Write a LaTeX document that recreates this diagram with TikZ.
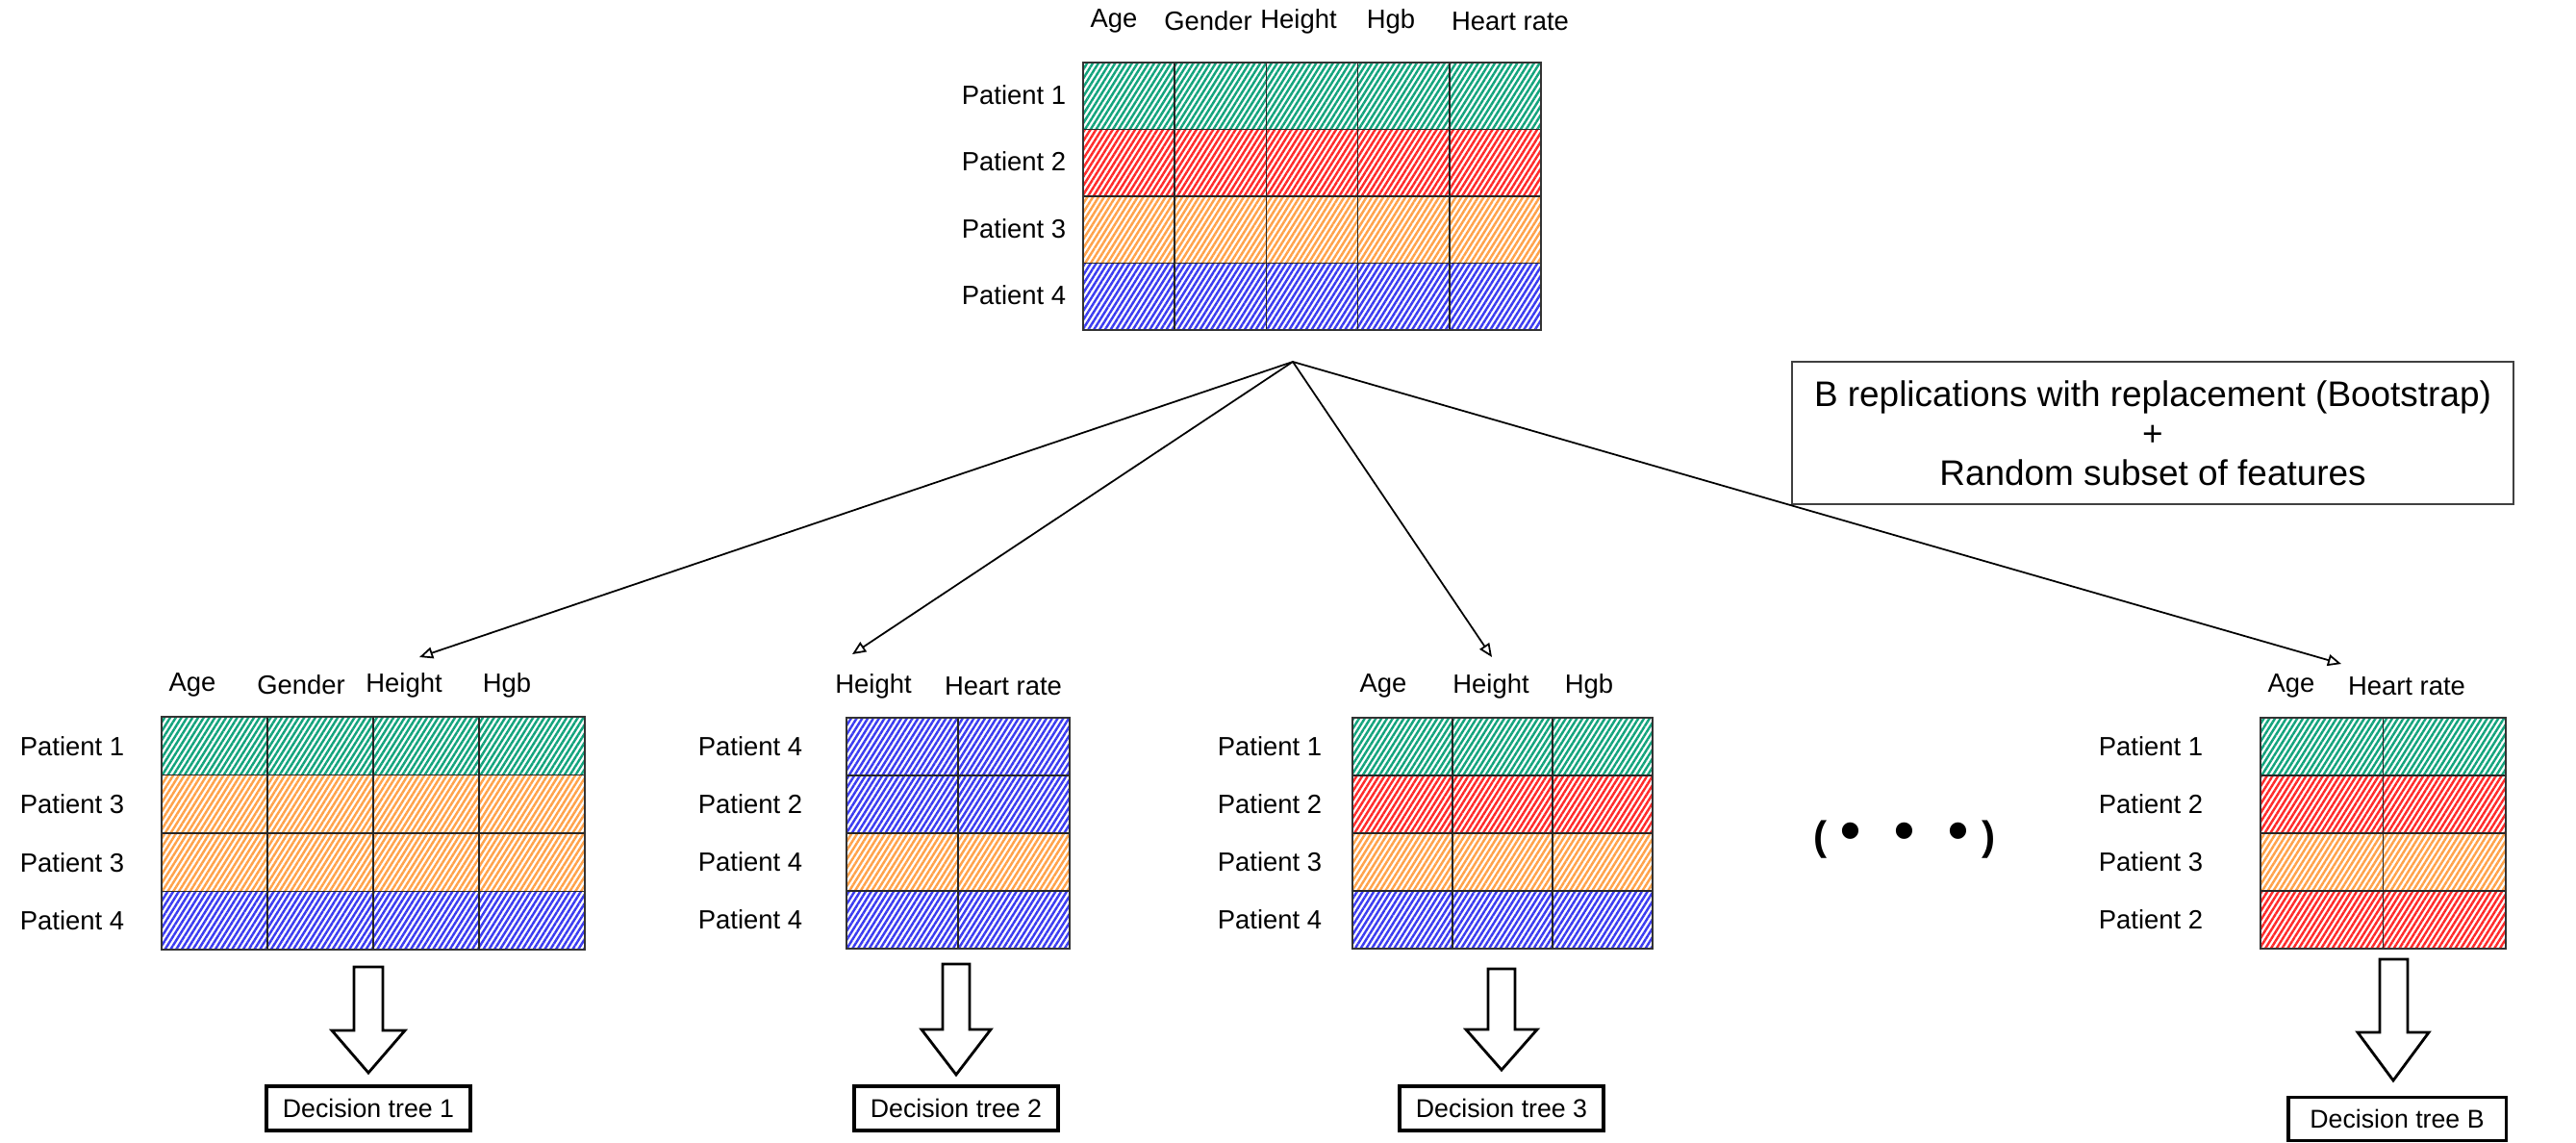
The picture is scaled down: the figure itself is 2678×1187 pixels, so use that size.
\documentclass[tikz,border=0pt]{standalone}
\usepackage{fontspec}
\setmainfont{Liberation Sans}
\usetikzlibrary{arrows.meta,patterns.meta}

\definecolor{tgreen}{HTML}{12A37C}
\definecolor{tred}{HTML}{FF2A2A}
\definecolor{torange}{HTML}{FFA24A}
\definecolor{tblue}{HTML}{3B3BF0}

\tikzset{
  hatch/.style={pattern={Lines[angle=58,distance=1.4pt,line width=0.7pt]}},
  cellline/.style={line width=0.45pt,black!85},
  tableedge/.style={line width=0.6pt,black!80},
  collabel/.style={font=\fontsize{7.8}{9}\selectfont,inner sep=1pt},
  rowlabel/.style={font=\fontsize{7.8}{9}\selectfont,inner sep=1pt},
  treebox/.style={draw,line width=0.9pt,minimum width=2.12cm,minimum height=0.46cm,inner sep=0pt,font=\fontsize{7.6}{9}\selectfont},
  notebox/.style={draw=black!75,line width=0.45pt,minimum width=7.5cm,minimum height=1.48cm,align=center,font=\fontsize{10.5}{11.7}\selectfont},
  feed/.style={-{Triangle[open,length=4pt,width=3.4pt]},line width=0.5pt},
  bigarrow/.style={draw,fill=white,line width=0.8pt,line join=miter}
}

\begin{document}
\begin{tikzpicture}[x=0.01cm,y=-0.01cm]
\useasboundingbox (0,0) rectangle (2678,1187);

% full data set
\begin{scope}[shift={(1126,65)}]
  \foreach \c [count=\r from 0] in {tgreen,tred,torange,tblue}
    \fill[hatch,pattern color=\c] (0,{69.5*\r}) rectangle ++(476,69.5);
  \foreach \i in {1,...,4}
    \draw[cellline] ({95.2*\i},0) -- ({95.2*\i},278);
  \foreach \j in {1,2,3}
    \draw[cellline] (0,{69.5*\j}) -- (476,{69.5*\j});
  \draw[tableedge] (0,0) rectangle (476,278);
  \foreach \t/\x [count=\i] in {Age/32,Gender/130,Height/224,Hgb/320,Heart rate/444}
    \node[collabel] (m-h\i) at (\x,-43) {\t};
  \foreach \p [count=\i] in {1,2,3,4}
    \node[rowlabel] (m-p\i) at (-72,{69.5*\i-36}) {Patient \p};
\end{scope}

% sample 1
\begin{scope}[shift={(168,745)}]
  \foreach \c [count=\r from 0] in {tgreen,torange,torange,tblue}
    \fill[hatch,pattern color=\c] (0,{60.5*\r}) rectangle ++(440,60.5);
  \foreach \i in {1,2,3}
    \draw[cellline] ({110*\i},0) -- ({110*\i},242);
  \foreach \j in {1,2,3}
    \draw[cellline] (0,{60.5*\j}) -- (440,{60.5*\j});
  \draw[tableedge] (0,0) rectangle (440,242);
  \foreach \t/\x [count=\i] in {Age/32,Gender/145,Height/252,Hgb/359}
    \node[collabel] (a-h\i) at (\x,-33) {\t};
  \foreach \p [count=\i] in {1,3,3,4}
    \node[rowlabel] (a-p\i) at (-93,{60.5*\i-30.25}) {Patient \p};
\end{scope}

% sample 2
\begin{scope}[shift={(880,746)}]
  \foreach \c [count=\r from 0] in {tblue,tblue,torange,tblue}
    \fill[hatch,pattern color=\c] (0,{60*\r}) rectangle ++(232,60);
  \draw[cellline] (116,0) -- (116,240);
  \foreach \j in {1,2,3}
    \draw[cellline] (0,{60*\j}) -- (232,{60*\j});
  \draw[tableedge] (0,0) rectangle (232,240);
  \foreach \t/\x [count=\i] in {Height/28,Heart rate/163}
    \node[collabel] (b-h\i) at (\x,-33) {\t};
  \foreach \p [count=\i] in {4,2,4,4}
    \node[rowlabel] (b-p\i) at (-100,{60*\i-30}) {Patient \p};
\end{scope}

% sample 3
\begin{scope}[shift={(1406,746)}]
  \foreach \c [count=\r from 0] in {tgreen,tred,torange,tblue}
    \fill[hatch,pattern color=\c] (0,{60*\r}) rectangle ++(312,60);
  \foreach \i in {1,2}
    \draw[cellline] ({104*\i},0) -- ({104*\i},240);
  \foreach \j in {1,2,3}
    \draw[cellline] (0,{60*\j}) -- (312,{60*\j});
  \draw[tableedge] (0,0) rectangle (312,240);
  \foreach \t/\x [count=\i] in {Age/32,Height/144,Hgb/246}
    \node[collabel] (c-h\i) at (\x,-33) {\t};
  \foreach \p [count=\i] in {1,2,3,4}
    \node[rowlabel] (c-p\i) at (-86,{60*\i-30}) {Patient \p};
\end{scope}

% sample B
\begin{scope}[shift={(2350,746)}]
  \foreach \c [count=\r from 0] in {tgreen,tred,torange,tred}
    \fill[hatch,pattern color=\c] (0,{60*\r}) rectangle ++(255,60);
  \draw[cellline] (127.5,0) -- (127.5,240);
  \foreach \j in {1,2,3}
    \draw[cellline] (0,{60*\j}) -- (255,{60*\j});
  \draw[tableedge] (0,0) rectangle (255,240);
  \foreach \t/\x [count=\i] in {Age/32,Heart rate/152}
    \node[collabel] (d-h\i) at (\x,-33) {\t};
  \foreach \p [count=\i] in {1,2,3,2}
    \node[rowlabel] (d-p\i) at (-114,{60*\i-30}) {Patient \p};
\end{scope}

\node[notebox] (note) at (2238,450) {B replications with replacement (Bootstrap)\\+\\Random subset of features};

\node[font=\fontsize{12}{14}\selectfont\bfseries] (more) at (1980,873)
  {(\hspace{4pt}{\fontsize{17}{17}\selectfont\textbullet}\hspace{10pt}{\fontsize{17}{17}\selectfont\textbullet}\hspace{10pt}{\fontsize{17}{17}\selectfont\textbullet}\hspace{4pt})};

% bootstrap draws
\coordinate (src) at (1344,376);
\coordinate (in1) at (436,683);
\coordinate (in2) at (886,680);
\coordinate (in3) at (1551,683);
\coordinate (in4) at (2434,690);
\foreach \k in {1,...,4}
  \draw[feed] (src) -- (in\k);

% fitted trees
\draw[bigarrow] (368,1005) -- (398,1005) -- (398,1071) -- (421,1071) -- (383,1115) -- (345,1071) -- (368,1071) -- cycle;
\draw[bigarrow] (980,1002) -- (1008,1002) -- (1008,1070) -- (1030,1070) -- (994,1117) -- (958,1070) -- (980,1070) -- cycle;
\draw[bigarrow] (1547,1007) -- (1575,1007) -- (1575,1070) -- (1598,1070) -- (1561,1112) -- (1524,1070) -- (1547,1070) -- cycle;
\draw[bigarrow] (2474,997) -- (2503,997) -- (2503,1073) -- (2525,1073) -- (2488,1123) -- (2451,1073) -- (2474,1073) -- cycle;

\node[treebox] (dt1) at (383,1152) {Decision tree 1};
\node[treebox] (dt2) at (994,1152) {Decision tree 2};
\node[treebox] (dt3) at (1561,1152) {Decision tree 3};
\node[treebox,minimum width=2.26cm,minimum height=0.45cm] (dtB) at (2492,1163) {Decision tree B};
\end{tikzpicture}
\end{document}
